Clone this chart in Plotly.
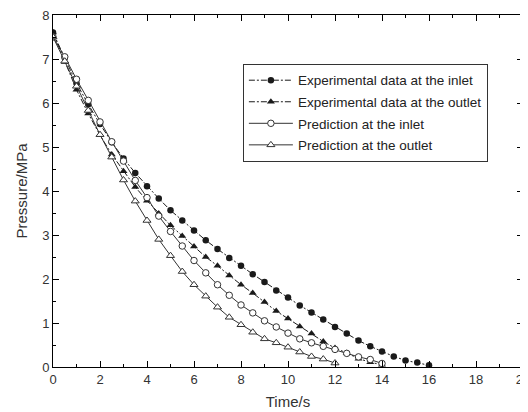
import plotly.graph_objects as go

t_exp_in = [i * 0.5 for i in range(33)]
p_exp_in = [7.6, 7.03, 6.45, 5.97, 5.52, 5.11, 4.74, 4.41, 4.11, 3.83, 3.56, 3.33, 3.10,
            2.88, 2.68, 2.48, 2.30, 2.11, 1.93, 1.74, 1.58, 1.40, 1.24, 1.08, 0.91, 0.76,
            0.60, 0.47, 0.35, 0.24, 0.15, 0.10, 0.04]

t_exp_out = [i * 0.5 for i in range(29)]
p_exp_out = [7.6, 6.93, 6.30, 5.76, 5.27, 4.83, 4.45, 4.09, 3.78, 3.49, 3.22, 2.98, 2.74,
             2.50, 2.30, 2.08, 1.87, 1.68, 1.48, 1.27, 1.10, 0.92, 0.76, 0.58, 0.43, 0.32,
             0.19, 0.11, 0.05]

t_pred_in = [i * 0.5 for i in range(29)]
p_pred_in = [7.5, 7.05, 6.54, 6.06, 5.57, 5.12, 4.68, 4.24, 3.85, 3.43, 3.08, 2.75, 2.42,
             2.14, 1.87, 1.63, 1.41, 1.23, 1.05, 0.91, 0.77, 0.64, 0.55, 0.47, 0.40, 0.31,
             0.23, 0.17, 0.08]

t_pred_out = [i * 0.5 for i in range(25)]
p_pred_out = [7.5, 6.95, 6.38, 5.83, 5.28, 4.77, 4.25, 3.77, 3.33, 2.90, 2.53, 2.17, 1.87,
              1.61, 1.36, 1.13, 0.96, 0.79, 0.64, 0.55, 0.45, 0.34, 0.24, 0.18, 0.09]

names = ["Experimental data at the inlet", "Experimental data at the outlet",
         "Prediction at the inlet", "Prediction at the outlet"]

ink = "#1a1a1a"
dashdot = "6px,2px,2px,2px"
fig = go.Figure()
fig.add_trace(go.Scatter(x=t_exp_in, y=p_exp_in, name=names[0], mode="lines+markers",
                         legendgroup="a",
                         line=dict(color=ink, width=1, dash=dashdot),
                         marker=dict(symbol="circle", size=6.5, color=ink)))
fig.add_trace(go.Scatter(x=t_exp_out, y=p_exp_out, name=names[1], mode="lines+markers",
                         legendgroup="b",
                         line=dict(color=ink, width=1, dash=dashdot),
                         marker=dict(symbol="triangle-up", size=7, color=ink)))
fig.add_trace(go.Scatter(x=t_pred_in, y=p_pred_in, name=names[2], mode="lines+markers",
                         legendgroup="c",
                         line=dict(color="#333333", width=1),
                         marker=dict(symbol="circle", size=6.5, color="white",
                                     line=dict(color="#333333", width=1))))
fig.add_trace(go.Scatter(x=t_pred_out, y=p_pred_out, name=names[3], mode="lines+markers",
                         legendgroup="d",
                         line=dict(color="#333333", width=1),
                         marker=dict(symbol="triangle-up", size=7, color="white",
                                     line=dict(color="#333333", width=1))))

axis_common = dict(showgrid=False, zeroline=False, showline=True, linecolor="black",
                   linewidth=1, mirror="allticks", ticks="inside", ticklen=6,
                   tickcolor="black", tickfont=dict(size=13, color="#333333"),
                   automargin=False, ticklabeloverflow="allow")

fig.update_xaxes(range=[0, 20], dtick=2, tick0=0,
                 title=dict(text="Time/s", font=dict(size=15, color="#333333"), standoff=10),
                 minor=dict(ticks="inside", ticklen=3, dtick=1, tickcolor="black"),
                 **axis_common)
fig.update_yaxes(range=[0, 8], dtick=1, tick0=0,
                 title=dict(text="Pressure/MPa", font=dict(size=15, color="#333333"), standoff=10),
                 minor=dict(ticks="inside", ticklen=3, dtick=0.5, tickcolor="black"),
                 **axis_common)

fig.update_layout(
    width=520, height=404,
    margin=dict(l=45, r=5, t=7, b=45),
    paper_bgcolor="white", plot_bgcolor="white",
    font=dict(family="Liberation Sans, Arial, sans-serif", color="#222222"),
    legend=dict(x=0.404, y=0.861, xanchor="left", yanchor="top",
                bgcolor="white", bordercolor="#333333", borderwidth=1,
                font=dict(size=13.5, color="#222222"), tracegroupgap=1,
                traceorder="grouped", itemwidth=44),
    showlegend=True,
)

fig.write_html("out.html")
